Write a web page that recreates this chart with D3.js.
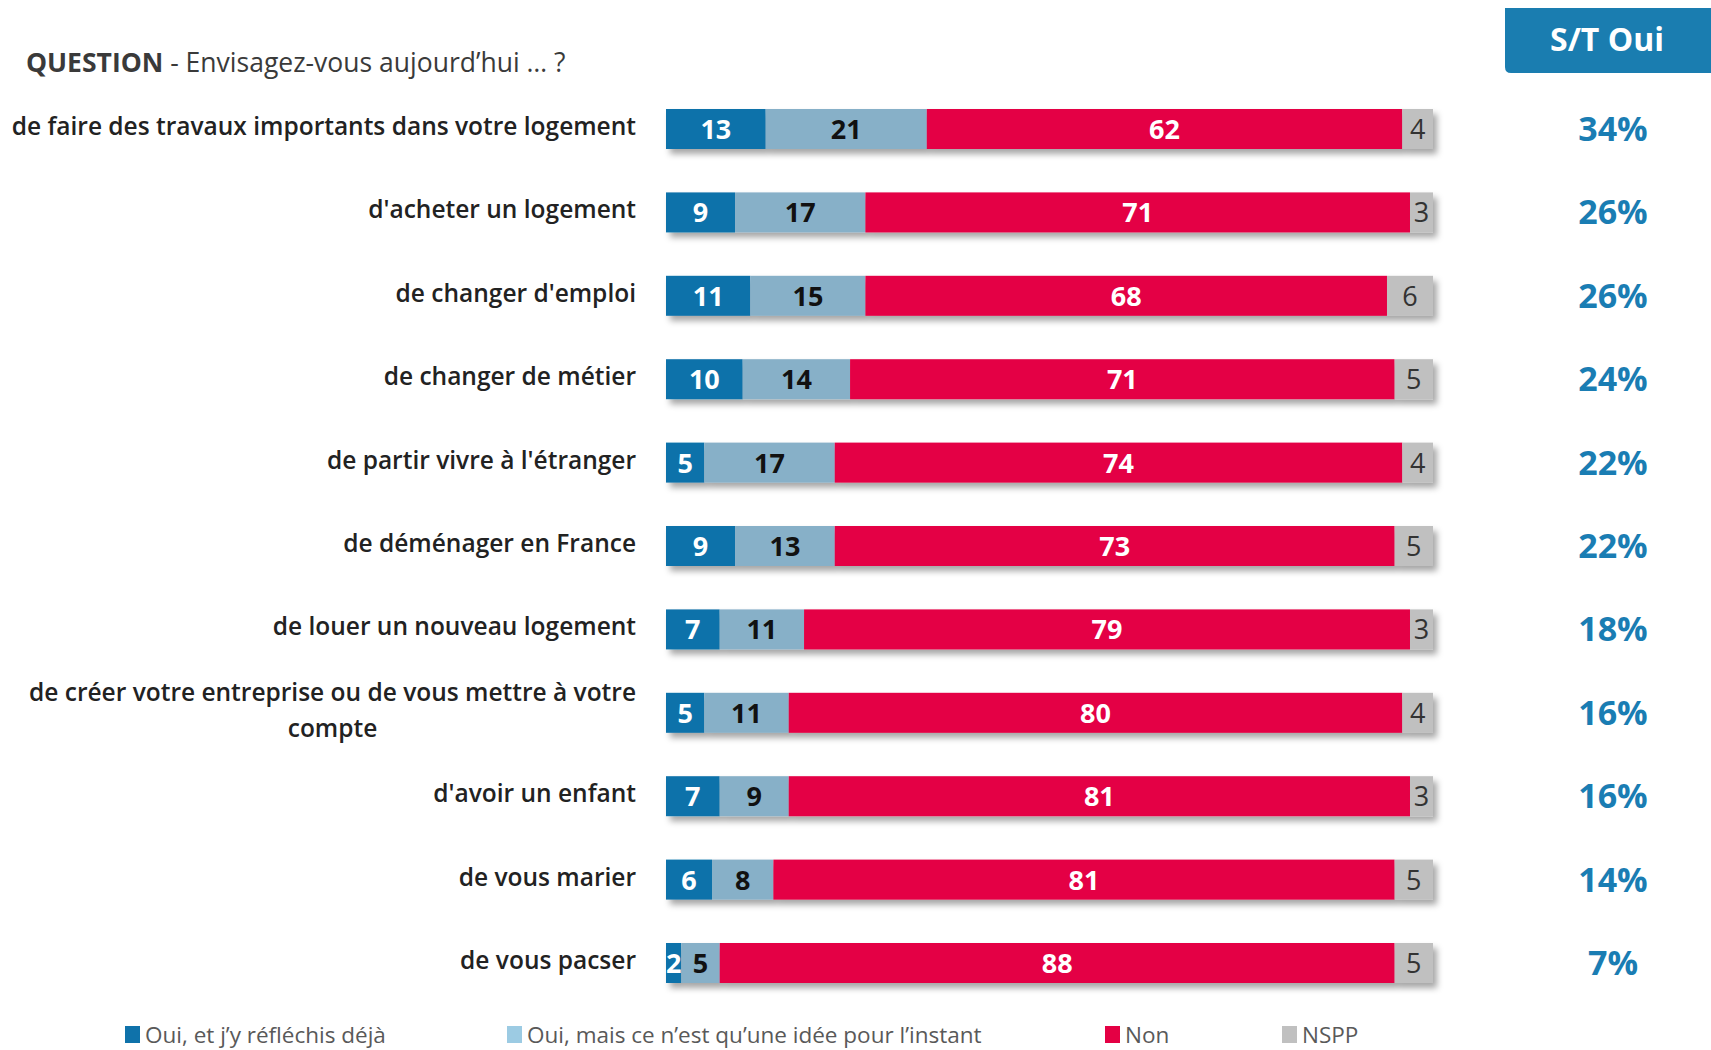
<!DOCTYPE html>
<html lang="fr">
<head>
	<meta charset="utf-8">
	<title>Envisagez-vous aujourd'hui</title>
	<script src="https://d3js.org/d3.v7.min.js"></script>
	<style type="text/css">
		body{ margin:0; background:#ffffff; }
		svg{ display:block; font-family:"Open Sans", "Noto Sans", sans-serif; }
	</style>
</head>
<body>
	<svg id="chart" width="1711" height="1050"></svg>

	<script type="text/javascript">

	// data
	var categories = [
		"de faire des travaux importants dans votre logement",
		"d'acheter un logement",
		"de changer d'emploi",
		"de changer de métier",
		"de partir vivre à l'étranger",
		"de déménager en France",
		"de louer un nouveau logement",
		"de créer votre entreprise ou de vous mettre à votre|compte",
		"d'avoir un enfant",
		"de vous marier",
		"de vous pacser"
	]
	var ouiDeja = [13, 9, 11, 10, 5, 9, 7, 5, 7, 6, 2]
	var ouiIdee = [21, 17, 15, 14, 17, 13, 11, 11, 9, 8, 5]
	var non     = [62, 71, 68, 71, 74, 73, 79, 80, 81, 81, 88]
	var nspp    = [4, 3, 6, 5, 4, 5, 3, 4, 3, 5, 5]
	var stOui   = [34, 26, 26, 24, 22, 22, 18, 16, 16, 14, 7]

	var seriesNames = ["Oui, et j\u2019y réfléchis déjà", "Oui, mais ce n\u2019est qu\u2019une idée pour l\u2019instant", "Non", "NSPP"]

	// colors
	var colors    = ["#0f72aa", "#87b0c8", "#e40044", "#c0c0c0"]
	var legendCol = ["#0f72aa", "#9ccbe3", "#e40044", "#c0c0c0"]
	var textCol   = ["#ffffff", "#111111", "#ffffff", "#333333"]
	var textW     = [700, 700, 700, 400]
	var pctBlue = "#1a7db3"

	var svg = d3.select("#chart")

	var x = d3.scaleLinear().domain([0, 100]).range([666, 1433])
	var y = d3.scalePoint().domain(d3.range(categories.length)).range([129, 963])
	var barH = 40
	var labelSize = 24.5

	// drop shadow
	var defs = svg.append("defs")
	var f = defs.append("filter").attr("id", "shadow")
		.attr("x", "-5%").attr("y", "-40%").attr("width", "115%").attr("height", "200%")
	f.append("feDropShadow")
		.attr("dx", 4).attr("dy", 5).attr("stdDeviation", 3)
		.attr("flood-color", "#000").attr("flood-opacity", 0.35)

	// title
	var title = svg.append("text")
		.attr("x", 26).attr("y", 72)
		.attr("font-size", 26.5)
		.attr("fill", "#3a3a3a")
	title.append("tspan").attr("font-weight", 700).text("QUESTION")
	title.append("tspan").text(" - Envisagez-vous aujourd\u2019hui \u2026 ?")

	// stacked rows
	var rows = categories.map(function(c, i){
		var vals = [ouiDeja[i], ouiIdee[i], non[i], nspp[i]]
		var acc = 0
		return vals.map(function(v, k){
			var seg = {row: i, k: k, v: v, x0: acc, x1: acc + v}
			acc += v
			return seg
		})
	})

	var rowG = svg.append("g").selectAll("g")
		.data(rows)
		.join("g")
		.attr("transform", (d, i) => "translate(0," + y(i) + ")")

	rowG.append("g")
		.attr("filter", "url(#shadow)")
		.selectAll("rect")
		.data(d => d)
		.join("rect")
		.attr("x", d => x(d.x0))
		.attr("y", -barH / 2)
		.attr("width", d => x(d.x1) - x(d.x0))
		.attr("height", barH)
		.attr("fill", d => colors[d.k])

	rowG.append("g")
		.selectAll("text")
		.data(d => d)
		.join("text")
		.attr("x", d => (x(d.x0) + x(d.x1)) / 2)
		.attr("y", 10)
		.attr("text-anchor", "middle")
		.attr("font-size", 27)
		.attr("font-weight", d => textW[d.k])
		.attr("fill", d => textCol[d.k])
		.text(d => d.v)

	// category labels
	var labelG = svg.append("g")
	categories.forEach(function(c, i){
		var lines = c.split("|")
		if (lines.length == 1) {
			labelG.append("text")
				.attr("x", 636).attr("y", y(i) + 6)
				.attr("text-anchor", "end")
				.attr("font-size", labelSize)
				.attr("font-weight", 600)
				.attr("fill", "#222")
				.text(c)
		} else {
			var t1 = labelG.append("text")
				.attr("x", 636).attr("y", y(i) - 12)
				.attr("text-anchor", "end")
				.attr("font-size", labelSize)
				.attr("font-weight", 600)
				.attr("fill", "#222")
				.text(lines[0])
			var w = t1.node().getComputedTextLength()
			labelG.append("text")
				.attr("x", 636 - w / 2).attr("y", y(i) + 24)
				.attr("text-anchor", "middle")
				.attr("font-size", labelSize)
				.attr("font-weight", 600)
				.attr("fill", "#222")
				.text(lines[1])
		}
	})

	// S/T Oui header
	svg.append("path")
		.attr("d", "M1505,8 H1711 V73 H1511 Q1505,73 1505,67 Z")
		.attr("fill", "#1a7db0")
	svg.append("text")
		.attr("x", 1607).attr("y", 51)
		.attr("text-anchor", "middle")
		.attr("font-size", 32)
		.attr("font-weight", 700)
		.attr("fill", "#fff")
		.text("S/T Oui")

	svg.append("g").selectAll("text")
		.data(stOui)
		.join("text")
		.attr("x", 1613)
		.attr("y", (d, i) => y(i) + 12)
		.attr("text-anchor", "middle")
		.attr("font-size", 34)
		.attr("font-weight", 700)
		.attr("fill", pctBlue)
		.text(d => d + "%")

	// legend
	var legendX = [125, 507, 1105, 1282]
	var lg = svg.append("g").selectAll("g")
		.data(seriesNames)
		.join("g")
		.attr("transform", (d, i) => "translate(" + legendX[i] + ",1026)")
	lg.append("rect")
		.attr("width", 15).attr("height", 17)
		.attr("fill", (d, i) => legendCol[i])
	lg.append("text")
		.attr("x", 20).attr("y", 17)
		.attr("font-size", 22.5)
		.attr("fill", "#595959")
		.text(d => d)

	</script>
</body>
</html>
